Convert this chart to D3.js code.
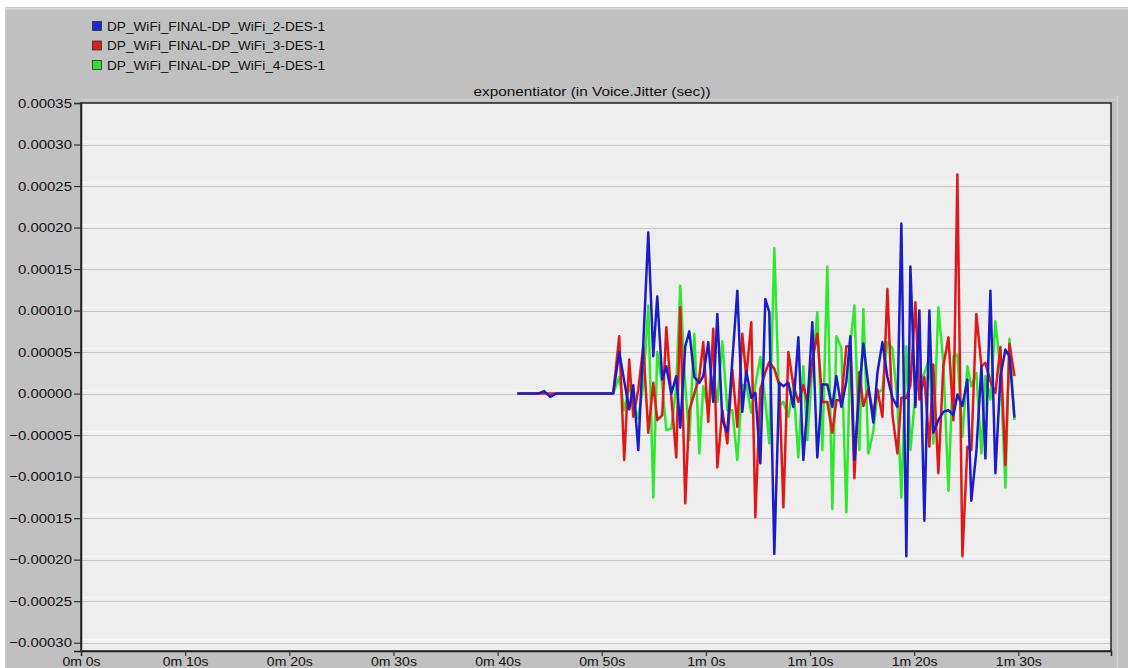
<!DOCTYPE html>
<html>
<head>
<meta charset="utf-8">
<script src="https://cdn.jsdelivr.net/npm/d3@7"></script>
<style>
  html, body { margin: 0; padding: 0; background: #ffffff; }
  svg { display: block; }
  text { font-family: "Liberation Sans", Arial, sans-serif; fill: #111; }
</style>
</head>
<body>
<svg id="chart" width="1128" height="668"></svg>
<script>
// ---------------- DATA ----------------
const seriesNames = [
  "DP_WiFi_FINAL-DP_WiFi_2-DES-1",
  "DP_WiFi_FINAL-DP_WiFi_3-DES-1",
  "DP_WiFi_FINAL-DP_WiFi_4-DES-1"
];
const chartTitle = "exponentiator (in Voice.Jitter (sec))";

// sample times (seconds)
const times = [
  41.9, 43.9, 44.48, 45.05, 45.6, 48.6, 50.5,
  51.10, 51.68, 52.16, 52.64, 53.03, 53.51, 53.99, 54.47, 54.95, 55.33,
  55.81, 56.20, 56.68, 57.16, 57.54, 58.02, 58.41, 58.89, 59.37, 59.75,
  60.23, 60.71, 61.10, 61.58, 62.06, 62.54, 63.02, 63.50, 63.88, 64.36,
  64.75, 65.23, 65.71, 66.09, 66.57, 67.05, 67.44, 67.92, 68.40, 68.88,
  69.36, 69.74, 70.22, 70.70, 71.18, 71.66, 72.14, 72.53, 73.01, 73.49,
  73.87, 74.26, 74.74, 75.12, 75.60, 76.08, 76.47, 76.95, 77.43, 77.91,
  78.39, 78.77, 79.25, 79.64, 80.12, 80.50, 80.98, 81.46, 81.84, 82.32,
  82.80, 83.29, 83.77, 84.15, 84.63, 85.11, 85.49, 85.97, 86.46, 86.84,
  87.32, 87.80, 88.28, 88.76, 89.15, 89.63
];

// values in units of 1e-5 sec (null = no sample)
const blueValues = [
  0, 0, 0.3, -0.4, 0, 0, 0,
  0, 5.0, 1.5, -1.9, 1.0, -6.8, 6.0, 19.4, 4.5, 11.7,
  1.7, 3.3, 0, 2.1, -4.1, 5.7, 7.5, 2.0, 1.3, 2.1,
  6.2, -1.0, 9.6, -3.2, -4.6, 4.0, 12.4, -2.2, 2.7, -0.5,
  0.1, -8.4, 11.4, 9.8, -19.3, 1.3, 0.9, 1.3, -1.6, 6.8,
  -8.0, -1.6, 8.6, -7.7, 1.1, 1.1, -1.6, 2.1, -1.6, 1.5,
  6.9, -8.0, 0.5, 6.0, 1.0, -3.5, 2.5, 6.2, 2.0, -0.5,
  -1.6, 20.5, -19.6, 15.3, -1.6, 10.0, -15.3, 10.0, -4.7, -3.2,
  -2.2, -2.0, -2.6, -0.1, -1.5, 1.7, -12.9, -7.0, 3.3, -7.8,
  12.4, -9.6, 2.1, 5.3, 4.5, -2.9
];
const redValues = [
  0, 0, 0, 0, 0, 0, 0,
  0, 6.9, -8.0, 4.1, -2.8, 0.5, 5.7, -4.7, 1.3, -3.2,
  -2.6, 8.0, -0.4, -7.7, 10.4, -13.2, -2.0, 0, 2.0, 6.2,
  -3.4, 7.8, -8.9, -2.0, -6.0, 2.9, -4.0, 7.2, 2.0, 8.6,
  -14.9, 0.5, 2.6, 3.8, 3.0, 1.0, -13.7, 5.0, 1.0, -1.0,
  1.0, -1.0, 4.0, 7.2, -1.0, -1.0, -4.7, -0.8, -0.8, 5.7,
  5.7, -10.2, 2.6, -1.5, 0.5, -2.5, 0.5, -2.8, 12.6, -2.5,
  -7.2, -0.5, -0.5, 1.0, 11.0, -0.7, 2.0, -6.4, 3.5, -9.6,
  3.3, 6.8, -3.2, 26.4, -19.6, -6.4, -6.8, 9.6, 3.3, 3.7,
  1.5, 0.1, 5.6, -8.6, 6.0, 2.1
];
const greenValues = [
  null, null, null, null, null, null, null,
  0, 2.0, -2.0, 1.0, -1.0, -3.0, 1.0, 10.6, -12.5, 5.0,
  1.0, -4.4, -4.2, 1.0, 13.0, 1.0, -5.6, 7.2, -7.2, 0.9,
  -2.0, 2.0, -1.0, 6.3, -2.0, -2.0, -8.0, 1.0, 1.0, -2.3,
  1.0, 4.4, -1.0, -6.0, 17.5, -1.5, -1.0, -2.8, 1.0, -7.7,
  3.3, -5.6, 3.0, 9.8, -6.8, 15.3, -13.9, 6.9, 5.5, -14.3,
  6.0, 10.6, -6.8, 10.2, -7.2, -4.5, 0, 0.5, 6.2, 5.5,
  -1.0, -12.5, 5.7, -6.8, 0.1, 1.0, 2.5, 4.3, -6.0, 10.4,
  3.8, -11.7, 4.5, 4.7, -5.2, 3.3, 0.9, 2.5, -7.2, 2.1,
  -0.7, 8.7, 2.9, -11.3, 6.6, -3.2
];
const seriesValues = [blueValues, redValues, greenValues];
const seriesColors = ["#1c1cc8", "#e01818", "#2ee82e"];
const legendColors = ["#1a2ad0", "#d82020", "#30e030"];

const yTicks = [-0.00030, -0.00025, -0.00020, -0.00015, -0.00010, -0.00005, 0,
                0.00005, 0.00010, 0.00015, 0.00020, 0.00025, 0.00030, 0.00035];
const xTickSeconds = [0, 10, 20, 30, 40, 50, 60, 70, 80, 90];
const xTickLabels = ["0m 0s", "0m 10s", "0m 20s", "0m 30s", "0m 40s", "0m 50s",
                     "1m 0s", "1m 10s", "1m 20s", "1m 30s"];

// ---------------- LAYOUT ----------------
const W = 1128, H = 668;
const plot = { left: 81, right: 1111, top: 103, bottom: 651 };
const svg = d3.select("#chart");

function stretch(sel, k) {
  sel.each(function () {
    const len = this.getComputedTextLength();
    d3.select(this).attr("textLength", len * k).attr("lengthAdjust", "spacingAndGlyphs");
  });
}

// panel background
svg.append("rect").attr("x", 0).attr("y", 0).attr("width", W).attr("height", H).attr("fill", "#ffffff");
svg.append("rect").attr("x", 5).attr("y", 7).attr("width", W - 5).attr("height", H - 7).attr("fill", "#c0c0c0");
svg.append("line").attr("x1", 5).attr("x2", W).attr("y1", 8.5).attr("y2", 8.5)
  .attr("stroke", "#d8d8d8").attr("stroke-width", 2);
svg.append("line").attr("x1", 5.5).attr("x2", 5.5).attr("y1", 7).attr("y2", H)
  .attr("stroke", "#d0d0d0").attr("stroke-width", 1);
svg.append("line").attr("x1", 1117.5).attr("x2", 1117.5).attr("y1", 96).attr("y2", H)
  .attr("stroke", "#d4d4d4").attr("stroke-width", 1.5);
svg.append("line").attr("x1", plot.left).attr("x2", 1117).attr("y1", 99.5).attr("y2", 99.5)
  .attr("stroke", "#cecece").attr("stroke-width", 1.5);

// scales
const x = d3.scaleLinear().domain([0, 98.9]).range([plot.left, plot.right]);
const y = d3.scaleLinear().domain([-0.00031, 0.00035]).range([plot.bottom, plot.top]);

// plot background
svg.append("rect")
  .attr("x", plot.left).attr("y", plot.top)
  .attr("width", plot.right - plot.left).attr("height", plot.bottom - plot.top)
  .attr("fill", "#eeeeee");

// gridlines
const grid = svg.append("g");
yTicks.forEach(v => {
  const yy = Math.round(y(v));
  if (yy > plot.top + 2 && yy < plot.bottom - 1) {
    grid.append("line").attr("x1", plot.left).attr("x2", plot.right)
      .attr("y1", yy - 3.5).attr("y2", yy - 3.5).attr("stroke", "#f8f8f8").attr("stroke-width", 1.5);
    grid.append("line").attr("x1", plot.left).attr("x2", plot.right)
      .attr("y1", yy + 0.5).attr("y2", yy + 0.5).attr("stroke", "#c9c9c9").attr("stroke-width", 1.2);
  }
});

// clip
svg.append("clipPath").attr("id", "clip").append("rect")
  .attr("x", plot.left).attr("y", plot.top)
  .attr("width", plot.right - plot.left).attr("height", plot.bottom - plot.top);

// lines (green under red under blue)
const linesG = svg.append("g").attr("clip-path", "url(#clip)");
[2, 1, 0].forEach(si => {
  const pts = times.map((t, i) => ({ t, v: seriesValues[si][i] }));
  const line = d3.line()
    .defined(d => d.v !== null)
    .x(d => x(d.t))
    .y(d => y(d.v * 1e-5));
  linesG.append("path")
    .datum(pts)
    .attr("d", line)
    .attr("fill", "none")
    .attr("stroke", seriesColors[si])
    .attr("stroke-width", 2.5)
    .attr("stroke-linejoin", "round");
});

// plot frame
svg.append("rect")
  .attr("x", plot.left).attr("y", plot.top)
  .attr("width", plot.right - plot.left).attr("height", plot.bottom - plot.top)
  .attr("fill", "none").attr("stroke", "#222").attr("stroke-width", 1.5);

// y axis
const yAxis = d3.axisLeft(y).tickValues(yTicks).tickSize(7).tickPadding(2)
  .tickFormat(d3.format(".5f"));
const yg = svg.append("g").attr("transform", `translate(${plot.left},0)`).call(yAxis);
yg.select(".domain").attr("stroke", "#222").attr("stroke-width", 1.5);
yg.selectAll(".tick line").attr("stroke", "#333").attr("stroke-width", 1.2);
yg.selectAll(".tick text").attr("font-size", 13).attr("fill", "#111")
  .attr("font-family", "Liberation Sans, Arial, sans-serif");
stretch(yg.selectAll(".tick text"), 1.15);

// x axis
const xAxis = d3.axisBottom(x).tickValues(xTickSeconds).tickSize(5).tickPadding(1.5)
  .tickFormat((d, i) => xTickLabels[i]);
const xg = svg.append("g").attr("transform", `translate(0,${plot.bottom})`).call(xAxis);
xg.select(".domain").attr("stroke", "#222").attr("stroke-width", 1.5);
xg.selectAll(".tick line").attr("stroke", "#333").attr("stroke-width", 1.2);
xg.selectAll(".tick text").attr("font-size", 12.5).attr("fill", "#111")
  .attr("font-family", "Liberation Sans, Arial, sans-serif");
stretch(xg.selectAll(".tick text"), 1.12);

// title
const title = svg.append("text")
  .attr("x", 592).attr("y", 96)
  .attr("text-anchor", "middle")
  .attr("font-size", 13)
  .text(chartTitle);
stretch(title, 1.18);

// legend
const legendY = [26, 45.5, 65];
const lg = svg.append("g");
seriesNames.forEach((name, i) => {
  lg.append("rect")
    .attr("x", 92.5).attr("y", legendY[i] - 4.5)
    .attr("width", 9).attr("height", 9)
    .attr("fill", legendColors[i])
    .attr("stroke", "#303030").attr("stroke-width", 0.8);
  const t = lg.append("text")
    .attr("x", 107).attr("y", legendY[i] + 4.5)
    .attr("font-size", 12.5)
    .text(name);
  stretch(t, 1.09);
});
</script>
</body>
</html>
